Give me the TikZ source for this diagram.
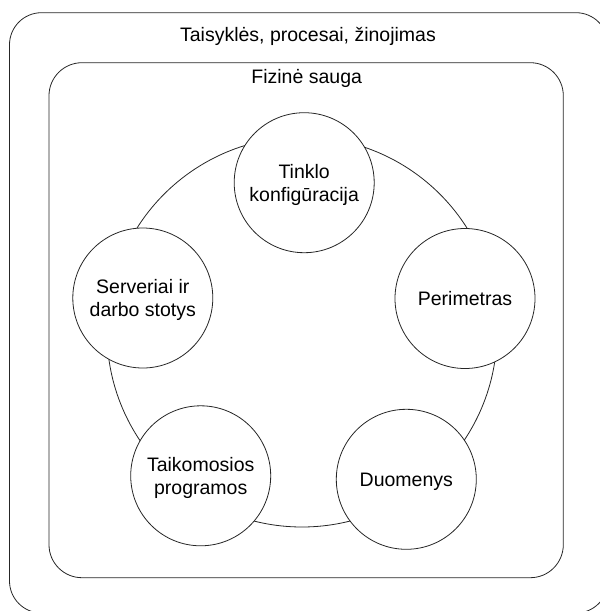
\documentclass[tikz,border=0pt]{standalone}
\usepackage{fontspec}
\setmainfont{Liberation Sans}
\begin{document}
\begin{tikzpicture}[x=1pt,y=-1pt,
  frame/.style={draw=black!85, line width=0.8pt, rounded corners=32pt},
  ring/.style={circle, draw=black!85, line width=0.8pt, inner sep=0pt, minimum size=390pt},
  part/.style={circle, draw=black!85, line width=0.8pt, fill=white, minimum size=140pt,
    inner sep=0pt, align=center, text depth=0pt, font=\fontsize{19.5}{22.7}\selectfont},
  caption/.style={anchor=base, inner sep=0pt, font=\fontsize{19.5}{22.7}\selectfont}]
\useasboundingbox (0,0) rectangle (600,611);
\clip (0,0) rectangle (600,611);

% outer layer
\draw[frame] (9.5,12.7) rectangle (608,613);
\node[caption] (outerlabel) at (308,41.7) {Taisyklės, procesai, žinojimas};

% inner layer
\draw[frame, rounded corners=33pt] (49,62.7) rectangle (563.3,577.7);
\node[caption] (innerlabel) at (306.7,83.3) {Fizinė sauga};

% ring joining the five parts
\node[ring] (ring) at (302,332) {};

% the five parts
\node[part] (network) at (304.2,182.7) {Tinklo\\konfigūracija};
\node[part] (perimeter) at (465,298.5) {Perimetras};
\node[part] (data) at (406.3,479.3) {Duomenys};
\node[part] (apps) at (200.7,475.8) {Taikomosios\\programos};
\node[part] (servers) at (142.8,298) {Serveriai ir\\darbo stotys};
\end{tikzpicture}
\end{document}
